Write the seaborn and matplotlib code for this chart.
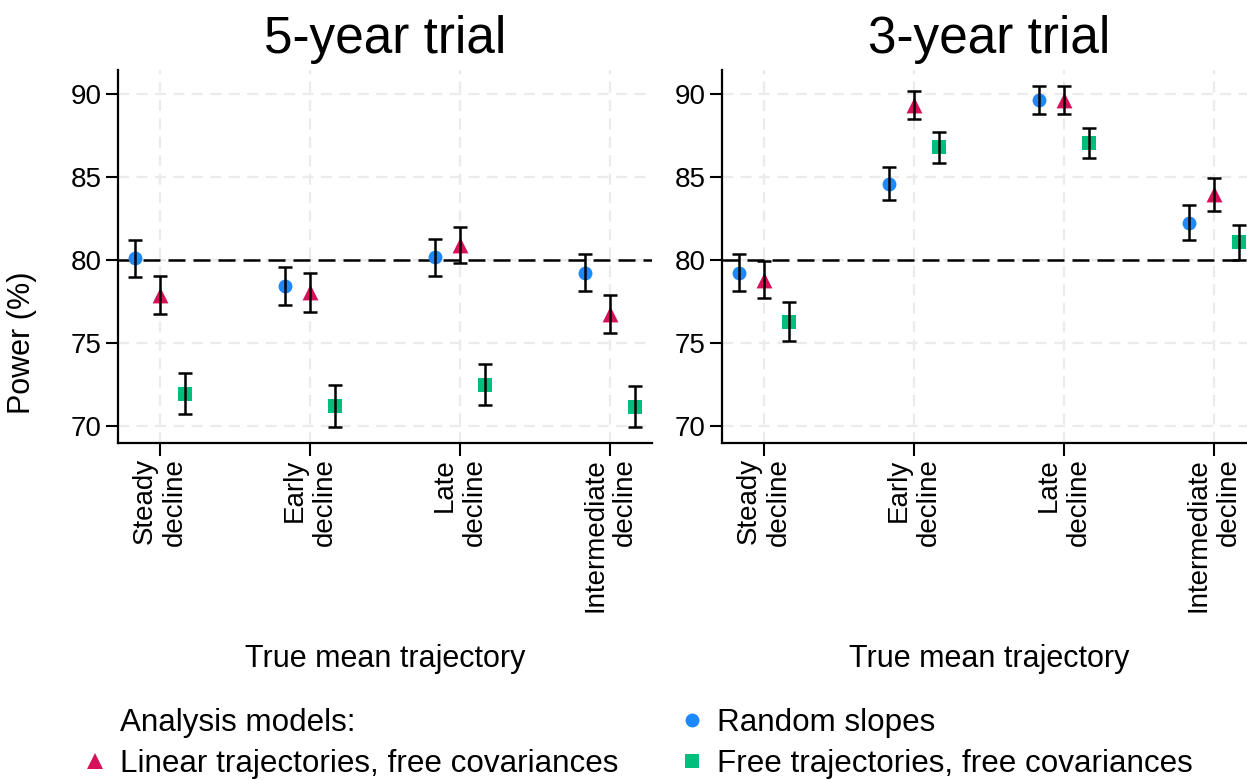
import numpy as np
import pandas as pd
import matplotlib
matplotlib.use("Agg")
import matplotlib.pyplot as plt
import seaborn as sns
from matplotlib.lines import Line2D

# ---------------- data ----------------
categories = ["Steady\ndecline", "Early\ndecline", "Late\ndecline", "Intermediate\ndecline"]
models = ["Random slopes", "Linear trajectories, free covariances", "Free trajectories, free covariances"]
trials = ["5-year trial", "3-year trial"]

power_5y_random = [80.10, 78.45, 80.17, 79.24]
power_5y_linear = [77.90, 78.05, 80.90, 76.75]
power_5y_free = [71.95, 71.20, 72.50, 71.17]
err_5y_random = [1.10, 1.14, 1.10, 1.13]
err_5y_linear = [1.13, 1.15, 1.09, 1.16]
err_5y_free = [1.25, 1.27, 1.22, 1.25]

power_3y_random = [79.25, 84.60, 89.62, 82.24]
power_3y_linear = [78.82, 89.34, 89.65, 83.97]
power_3y_free = [76.29, 86.79, 87.06, 81.07]
err_3y_random = [1.12, 1.00, 0.85, 1.05]
err_3y_linear = [1.10, 0.85, 0.85, 1.00]
err_3y_free = [1.18, 0.93, 0.92, 1.07]

target_power = 80
y_ticks = [70, 75, 80, 85, 90]

# ---------------- styling ----------------
colors = {models[0]: "#1E88FF", models[1]: "#D41159", models[2]: "#00BF7D"}
markers = {models[0]: "o", models[1]: "^", models[2]: "s"}
offsets = {models[0]: -0.165, models[1]: 0.0, models[2]: 0.165}
sizes = {models[0]: 100, models[1]: 130, models[2]: 100}

sns.set_theme(style="white")
plt.rcParams["font.family"] = ["Liberation Sans", "DejaVu Sans"]
plt.rcParams.update({"text.color": "black", "axes.labelcolor": "black",
                     "xtick.color": "black", "ytick.color": "black"})

rows = []
data = {
    trials[0]: [(power_5y_random, err_5y_random), (power_5y_linear, err_5y_linear), (power_5y_free, err_5y_free)],
    trials[1]: [(power_3y_random, err_3y_random), (power_3y_linear, err_3y_linear), (power_3y_free, err_3y_free)],
}
for trial, series in data.items():
    for m, (vals, errs) in zip(models, series):
        for i, (c, v, e) in enumerate(zip(categories, vals, errs)):
            rows.append(dict(trial=trial, model=m, cat_idx=i, category=c, power=v, err=e,
                             x=i + offsets[m]))
df = pd.DataFrame(rows)

W, H = 1247, 780
fig = plt.figure(figsize=(W / 100, H / 100), dpi=100)
ax_w = 534 / W
ax_h = 373 / H
ax_b = 1 - 443 / H
axes = [fig.add_axes([118 / W, ax_b, ax_w, ax_h]),
        fig.add_axes([722 / W, ax_b, ax_w, ax_h])]

for ax, trial in zip(axes, trials):
    sub = df[df.trial == trial]
    # grid
    for yv in y_ticks:
        ax.axhline(yv, color="#EBEBEB", lw=1.6, ls=(0, (5, 3.3)), zorder=0)
    for i in range(len(categories)):
        ax.axvline(i, color="#EBEBEB", lw=1.6, ls=(0, (5, 3.3)), zorder=0)
    ax.axhline(target_power, color="black", lw=1.8, ls=(0, (6.8, 3.2)), zorder=1)
    for m in models:
        s = sub[sub.model == m]
        sns.scatterplot(data=s, x="x", y="power", color=colors[m], marker=markers[m],
                        s=sizes[m], linewidth=0, ax=ax, zorder=3, legend=False)
        ax.errorbar(s["x"], s["power"], yerr=s["err"], fmt="none", ecolor="black",
                    elinewidth=1.8, capsize=4.7, capthick=1.8, zorder=4)
    ax.set_xlim(-0.28, 3.28)
    ax.set_ylim(68.98, 91.45)
    ax.set_yticks(y_ticks)
    ax.set_xticks(range(len(categories)))
    ax.set_xticklabels(categories, rotation=90, ha="center", va="top", fontsize=20)
    for lbl in ax.get_xticklabels():
        lbl.set_multialignment("right")
    ax.tick_params(axis="y", labelsize=20, length=9, width=1.5, color="black", pad=3, left=True)
    ax.tick_params(axis="x", length=9, width=1.5, color="black", pad=2, bottom=True)
    for sp in ["top", "right"]:
        ax.spines[sp].set_visible(False)
    for sp in ["left", "bottom"]:
        ax.spines[sp].set_color("black")
        ax.spines[sp].set_linewidth(1.6)
    ax.set_title(trial, fontsize=37, pad=12)
    ax.set_xlabel("True mean trajectory", fontsize=22, va="top")
    ax.xaxis.set_label_coords(0.5, -0.54)
    ax.set_ylabel("")
    ax.grid(False)

axes[0].set_ylabel("Power (%)", fontsize=22)
axes[0].yaxis.set_label_coords(-0.152, 0.27)

# legend
blank = Line2D([], [], linestyle="none", marker="")
h_lin = Line2D([], [], linestyle="none", marker="^", markersize=11, color=colors[models[1]], markeredgewidth=0)
h_rs = Line2D([], [], linestyle="none", marker="o", markersize=10, color=colors[models[0]], markeredgewidth=0)
h_free = Line2D([], [], linestyle="none", marker="s", markersize=10, color=colors[models[2]], markeredgewidth=0)
fig.legend([blank, h_lin, h_rs, h_free],
           ["Analysis models:", models[1], models[0], models[2]],
           ncol=2, loc="upper left", bbox_to_anchor=(82.5 / W, 1 - 708 / H),
           frameon=False, fontsize=22.6, handlelength=0.8, handletextpad=0.4,
           columnspacing=1.93, labelspacing=0.36, borderpad=0, borderaxespad=0)

fig.savefig("out.png", dpi=100)
